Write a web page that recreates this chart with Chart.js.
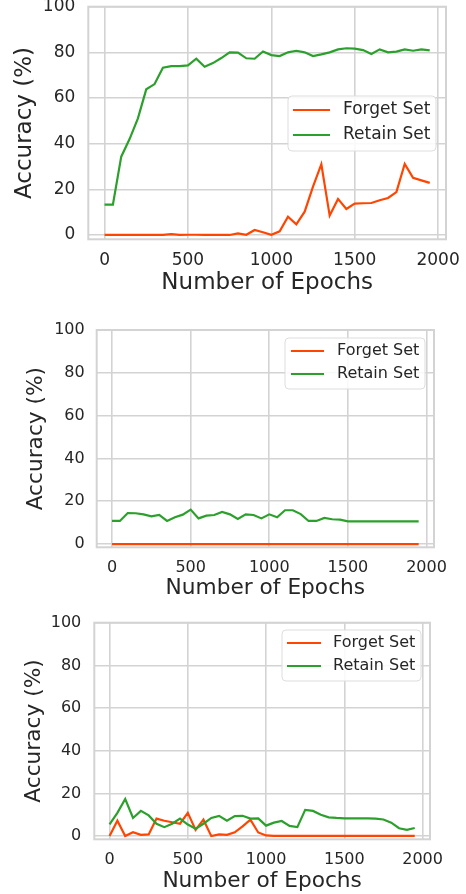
<!DOCTYPE html>
<html>
<head>
<meta charset="utf-8">
<script src="https://cdn.jsdelivr.net/npm/chart.js@4.4.0/dist/chart.umd.min.js"></script>
<style>
html, body { margin: 0; padding: 0; background: #fff; }
body { width: 466px; height: 894px; position: relative; overflow: hidden; }
canvas { position: absolute; left: 0; }
</style>
</head>
<body>
<canvas id="c1" width="466" height="300" style="top:0px"></canvas>
<canvas id="c2" width="466" height="300" style="top:300px"></canvas>
<canvas id="c3" width="466" height="294" style="top:600px"></canvas>
<script>
// --- data (accuracy %, every 50 epochs) ---
const epochs = [0, 50, 100, 150, 200, 250, 300, 350, 400, 450, 500, 550, 600, 650, 700, 750, 800, 850, 900, 950,
                1000, 1050, 1100, 1150, 1200, 1250, 1300, 1350, 1400, 1450, 1500, 1550, 1600, 1650, 1700, 1750, 1800, 1850, 1900, 1950];
const xTicks = [0, 500, 1000, 1500, 2000];
const yTicks = [0, 20, 40, 60, 80, 100];
const seriesNames = ['Forget Set', 'Retain Set'];

const forget1 = [0, 0, 0, 0, 0, 0, 0, 0, 0.4, 0, 0.1, 0.1, 0, 0, 0, 0, 0.7, 0.1, 2.2, 1.2,
                 0.1, 1.6, 8, 4.7, 10.2, 21.2, 31, 8.5, 15.8, 11.4, 13.7, 13.9, 14, 15.2, 16.2, 18.8, 31.1, 25, 23.9, 22.8];
const retain1 = [13.3, 13.3, 34.3, 42, 51.1, 63.8, 66.1, 73.3, 74, 74, 74.3, 77.2, 73.7, 75.3, 77.5, 80, 79.9, 77.4, 77.2, 80.4,
                 78.8, 78.4, 80, 80.7, 80, 78.4, 79.1, 80, 81.3, 81.8, 81.6, 81, 79.3, 81.3, 80, 80.3, 81.3, 80.7, 81.3, 80.9];

const forget2 = [0, 0, 0, 0, 0, 0, 0, 0, 0, 0, 0, 0, 0, 0, 0, 0, 0, 0, 0, 0,
                 0, 0, 0, 0, 0, 0, 0, 0, 0, 0, 0, 0, 0, 0, 0, 0, 0, 0, 0, 0];
const retain2 = [10.8, 10.8, 14.5, 14.4, 13.9, 13, 13.6, 10.8, 12.5, 13.75, 16.1, 12, 13.3, 13.6, 15, 13.9, 11.7, 13.9, 13.6, 12,
                 13.9, 12.5, 15.8, 15.8, 14, 10.8, 10.8, 12.2, 11.6, 11.4, 10.6, 10.6, 10.6, 10.6, 10.6, 10.6, 10.6, 10.6, 10.6, 10.6];

const forget3 = [0, 7.2, 0, 1.8, 0.6, 0.8, 8.2, 7.2, 6.5, 5.8, 10.9, 2.9, 7.7, 0, 0.8, 0.6, 1.8, 4.6, 7.7, 1.7,
                 0.3, 0.1, 0.1, 0.1, 0.1, 0.1, 0.1, 0.1, 0.1, 0.1, 0.1, 0.1, 0.1, 0.1, 0.1, 0.1, 0.1, 0.1, 0.1, 0.1];
const retain3 = [5.5, 10.9, 17.4, 8.5, 11.8, 9.7, 5.8, 4.2, 5.8, 8.2, 5.4, 3.5, 5.8, 8.5, 9.5, 7.2, 9.4, 9.5, 8.2, 8.3,
                 4.9, 6.3, 7.1, 4.8, 4.2, 12.3, 11.8, 10, 8.8, 8.5, 8.3, 8.3, 8.3, 8.3, 8.2, 7.8, 6.3, 3.7, 2.9, 3.8];

const FONT = 'DejaVu Sans';
const TEXT = '#262626';
const GRID = '#d3d3d3';
const ORANGE = '#ff4500';
const GREEN = '#2ca02c';

// spines all round + matplotlib style legend
const frame = {
    id: 'frame',
    beforeDatasetsDraw(chart) {
        const { ctx, chartArea: a } = chart;
        ctx.save();
        ctx.strokeStyle = GRID;
        ctx.lineWidth = 2;
        ctx.strokeRect(a.left, a.top, a.right - a.left, a.bottom - a.top);
        ctx.restore();
    },
    afterDraw(chart, args, o) {
        const ctx = chart.ctx;
        ctx.save();
        ctx.beginPath();
        ctx.roundRect(o.x, o.y, o.w, o.h, 4);
        ctx.fillStyle = 'rgba(255,255,255,0.85)';
        ctx.fill();
        ctx.strokeStyle = '#dddddd';
        ctx.lineWidth = 1;
        ctx.stroke();
        ctx.font = o.size + 'px "' + FONT + '"';
        ctx.textBaseline = 'middle';
        chart.data.datasets.forEach((ds, i) => {
            const y = o.rows[i];
            ctx.strokeStyle = ds.borderColor;
            ctx.lineWidth = 2.2;
            ctx.beginPath();
            ctx.moveTo(o.l0, y);
            ctx.lineTo(o.l1, y);
            ctx.stroke();
            ctx.fillStyle = TEXT;
            ctx.fillText(ds.label, o.tx, y);
        });
        ctx.restore();
    }
};

function makeChart(id, forget, retain, P) {
    const pts = arr => epochs.map((e, i) => ({ x: e, y: arr[i] }));
    new Chart(document.getElementById(id), {
        type: 'line',
        data: {
            datasets: [
                { label: seriesNames[0], data: pts(forget), borderColor: ORANGE, borderWidth: 2.2, pointRadius: 0, tension: 0, order: 1 },
                { label: seriesNames[1], data: pts(retain), borderColor: GREEN, borderWidth: 2.2, pointRadius: 0, tension: 0, order: 0 }
            ]
        },
        options: {
            responsive: false,
            animation: false,
            layout: { padding: { left: 0, right: P.right, top: P.top, bottom: 0 } },
            plugins: { legend: { display: false }, tooltip: { enabled: false }, frame: P.legend },
            scales: {
                x: {
                    type: 'linear', min: -97.5, max: 2047.5,
                    afterBuildTicks: s => { s.ticks = xTicks.map(v => ({ value: v })); },
                    afterFit: s => { s.height = P.xh; s.paddingLeft = 0; s.paddingRight = 0; },
                    grid: { color: GRID, lineWidth: 1.6, drawTicks: false },
                    border: { display: false },
                    ticks: { padding: P.xpad, autoSkip: false, maxRotation: 0, color: TEXT,
                             font: { family: FONT, size: P.tick }, callback: v => String(v) },
                    title: { display: true, text: 'Number of Epochs', color: TEXT,
                             font: { family: FONT, size: P.title, lineHeight: 1 }, padding: { top: 0, bottom: P.xtb } }
                },
                y: {
                    type: 'linear', min: P.ymin, max: 100,
                    afterBuildTicks: s => { s.ticks = yTicks.map(v => ({ value: v })); },
                    afterFit: s => { s.width = P.yw; s.paddingTop = 0; s.paddingBottom = 0; },
                    grid: { color: GRID, lineWidth: 1.6, drawTicks: false },
                    border: { display: false },
                    ticks: { padding: P.ypad, color: TEXT, font: { family: FONT, size: P.tick }, callback: v => String(v) },
                    title: { display: true, text: 'Accuracy (%)', color: TEXT,
                             font: { family: FONT, size: P.title, lineHeight: 1 }, padding: { top: P.ytt, bottom: 0 } }
                }
            }
        },
        plugins: [frame]
    });
}

makeChart('c1', forget1, retain1, {
    top: 6.7, right: 20, yw: 88.3, xh: 60.7, ymin: -1.9,
    tick: 17, title: 23, xpad: 11, ypad: 13, xtb: 5.8, ytt: 13.5,
    legend: { x: 288, y: 96, w: 148, h: 55, rows: [110, 135], l0: 293, l1: 330, tx: 343, size: 17 }
});
makeChart('c2', forget2, retain2, {
    top: 30, right: 32, yw: 96.7, xh: 52.7, ymin: -1.5,
    tick: 16, title: 21.7, xpad: 11, ypad: 12, xtb: 0.9, ytt: 26,
    legend: { x: 285, y: 38, w: 140, h: 51, rows: [51, 74], l0: 291, l1: 324, tx: 337, size: 16 }
});
makeChart('c3', forget3, retain3, {
    top: 22.7, right: 36, yw: 94.3, xh: 54.7, ymin: -1.5,
    tick: 16, title: 21.7, xpad: 10.5, ypad: 13, xtb: 2.2, ytt: 23.5,
    legend: { x: 282, y: 30, w: 139, h: 51, rows: [43, 66], l0: 287, l1: 321, tx: 333, size: 16 }
});
</script>
</body>
</html>
